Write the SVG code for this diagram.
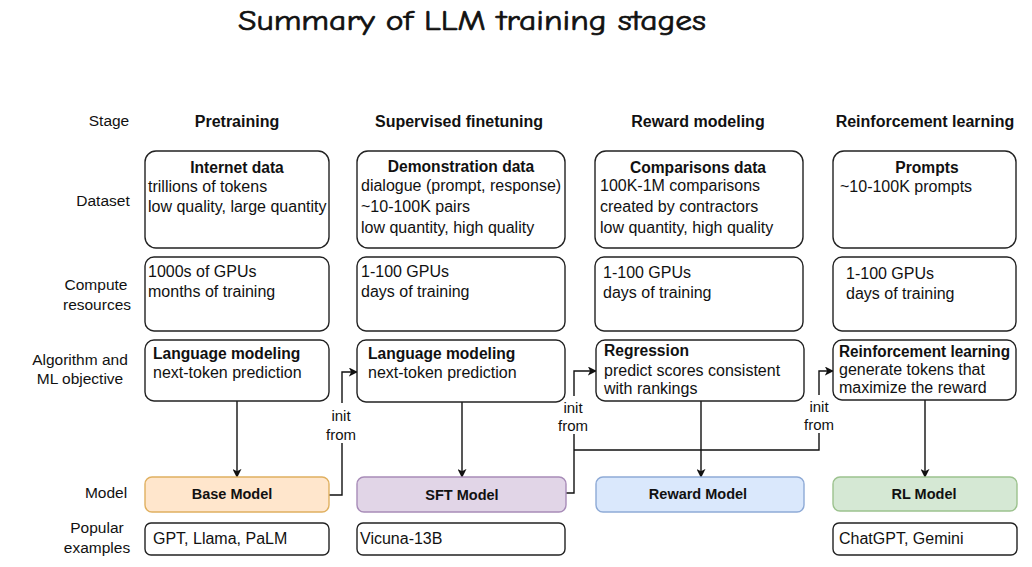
<svg xmlns="http://www.w3.org/2000/svg" width="1032" height="567" viewBox="0 0 1032 567">
<defs>
<marker id="arr" viewBox="0 0 10 10" refX="9" refY="5" markerWidth="9" markerHeight="9" markerUnits="userSpaceOnUse" orient="auto">
<path d="M0,0 L10,5 L0,10 L2.5,5 Z" fill="#111"/>
</marker>
</defs>
<style>
text{font-family:"Liberation Sans",Arial,sans-serif;fill:#111;font-size:16px}
.b{font-weight:bold;font-size:15.6px}
.h{font-weight:bold;font-size:16px;text-anchor:middle}
.r{font-size:15.5px;text-anchor:middle}
.m{text-anchor:middle}
.box{fill:#fff;stroke:#222;stroke-width:1.4}
.lbl{font-size:15px;text-anchor:middle}
.mt{font-weight:bold;font-size:14.5px;text-anchor:middle}
.conn{fill:none;stroke:#111;stroke-width:1.4}
.title{font-family:"Comic Neue","Comic Sans MS","DejaVu Sans",sans-serif;font-size:29px;text-anchor:middle;stroke:#111;stroke-width:0.7}
</style>
<rect width="1032" height="567" fill="#fff"/>
<text class="title" x="472" y="30" textLength="468" lengthAdjust="spacingAndGlyphs">Summary of LLM training stages</text>

<g id="row-labels">
<text class="r" x="109" y="126">Stage</text>
<text class="r" x="103" y="206">Dataset</text>
<text class="r" x="96" y="290">Compute</text>
<text class="r" x="97" y="310">resources</text>
<text class="r" x="80" y="365">Algorithm and</text>
<text class="r" x="80" y="384">ML objective</text>
<text class="r" x="106" y="498">Model</text>
<text class="r" x="97" y="533">Popular</text>
<text class="r" x="97" y="553">examples</text>
</g>

<g id="headers">
<text class="h" x="237" y="127">Pretraining</text>
<text class="h" x="459" y="127">Supervised finetuning</text>
<text class="h" x="698" y="127">Reward modeling</text>
<text class="h" x="925" y="127">Reinforcement learning</text>
</g>

<g id="connectors">
<line class="conn" x1="237" y1="401" x2="237" y2="477" marker-end="url(#arr)"/>
<line class="conn" x1="462" y1="402" x2="462" y2="477" marker-end="url(#arr)"/>
<line class="conn" x1="701" y1="401" x2="701" y2="477" marker-end="url(#arr)"/>
<line class="conn" x1="925" y1="400" x2="925" y2="477" marker-end="url(#arr)"/>
<path class="conn" d="M329,495 H342 V372 H357" marker-end="url(#arr)"/>
<path class="conn" d="M566,493 H574 V371 H596" marker-end="url(#arr)"/>
<path class="conn" d="M574,450 H819 V371 H833" marker-end="url(#arr)"/>
<rect x="325" y="403" width="34" height="40" fill="#fff"/>
<text class="lbl" x="341" y="421">init</text>
<text class="lbl" x="341" y="440">from</text>
<rect x="556" y="396" width="34" height="38" fill="#fff"/>
<text class="lbl" x="573" y="413">init</text>
<text class="lbl" x="573" y="431">from</text>
<rect x="802" y="395" width="34" height="38" fill="#fff"/>
<text class="lbl" x="819" y="412">init</text>
<text class="lbl" x="819" y="430">from</text>
</g>

<g id="pre-dataset">
<rect class="box" x="145" y="151" width="184" height="97" rx="11"/>
<text class="b m" x="237" y="173">Internet data</text>
<text x="148" y="192">trillions of tokens</text>
<text x="148" y="212">low quality, large quantity</text>
</g>
<g id="pre-compute">
<rect class="box" x="145" y="257" width="184" height="74" rx="9"/>
<text x="148" y="277">1000s of GPUs</text>
<text x="148" y="297">months of training</text>
</g>
<g id="pre-algo">
<rect class="box" x="145" y="340" width="184" height="61" rx="9"/>
<text class="b" x="153" y="359">Language modeling</text>
<text x="153" y="378">next-token prediction</text>
</g>
<g id="base-model">
<rect x="145" y="477" width="184" height="35" rx="7" fill="#ffe6cc" stroke="#e0b060" stroke-width="1.4"/>
<text class="mt" x="232" y="499">Base Model</text>
</g>
<g id="pre-examples">
<rect class="box" x="145" y="523" width="184" height="32" rx="6"/>
<text x="153" y="544">GPT, Llama, PaLM</text>
</g>

<g id="sft-dataset">
<rect class="box" x="357" y="151" width="208" height="97" rx="11"/>
<text class="b m" x="461" y="172">Demonstration data</text>
<text x="361" y="191">dialogue (prompt, response)</text>
<text x="361" y="212">~10-100K pairs</text>
<text x="361" y="233">low quantity, high quality</text>
</g>
<g id="sft-compute">
<rect class="box" x="357" y="257" width="208" height="74" rx="9"/>
<text x="361" y="277">1-100 GPUs</text>
<text x="361" y="297">days of training</text>
</g>
<g id="sft-algo">
<rect class="box" x="357" y="340" width="208" height="62" rx="9"/>
<text class="b" x="368" y="359">Language modeling</text>
<text x="368" y="378">next-token prediction</text>
</g>
<g id="sft-model">
<rect x="357" y="477" width="209" height="35" rx="7" fill="#e1d5e7" stroke="#a88cb8" stroke-width="1.4"/>
<text class="mt" x="462" y="500">SFT Model</text>
</g>
<g id="sft-examples">
<rect class="box" x="357" y="523" width="208" height="32" rx="6"/>
<text x="360" y="544">Vicuna-13B</text>
</g>

<g id="rm-dataset">
<rect class="box" x="595" y="151" width="208" height="97" rx="11"/>
<text class="b m" x="698" y="173">Comparisons data</text>
<text x="600" y="191">100K-1M comparisons</text>
<text x="600" y="212">created by contractors</text>
<text x="600" y="233">low quantity, high quality</text>
</g>
<g id="rm-compute">
<rect class="box" x="595" y="257" width="208" height="74" rx="9"/>
<text x="603" y="278">1-100 GPUs</text>
<text x="603" y="298">days of training</text>
</g>
<g id="rm-algo">
<rect class="box" x="596" y="340" width="208" height="61" rx="9"/>
<text class="b" x="604" y="356">Regression</text>
<text x="604" y="376">predict scores consistent</text>
<text x="604" y="394">with rankings</text>
</g>
<g id="reward-model">
<rect x="596" y="477" width="208" height="35" rx="7" fill="#dae8fc" stroke="#8eaad6" stroke-width="1.4"/>
<text class="mt" x="698" y="499">Reward Model</text>
</g>

<g id="rl-dataset">
<rect class="box" x="833" y="151" width="183" height="97" rx="11"/>
<text class="b m" x="927" y="173">Prompts</text>
<text x="840" y="192">~10-100K prompts</text>
</g>
<g id="rl-compute">
<rect class="box" x="833" y="257" width="183" height="74" rx="9"/>
<text x="846" y="279">1-100 GPUs</text>
<text x="846" y="299">days of training</text>
</g>
<g id="rl-algo">
<rect class="box" x="833" y="340" width="183" height="60" rx="9"/>
<text class="b" x="839" y="357" textLength="171" lengthAdjust="spacingAndGlyphs">Reinforcement learning</text>
<text x="839" y="375">generate tokens that</text>
<text x="839" y="393">maximize the reward</text>
</g>
<g id="rl-model">
<rect x="833" y="477" width="184" height="34" rx="7" fill="#d5e8d4" stroke="#9cc28e" stroke-width="1.4"/>
<text class="mt" x="924" y="499">RL Model</text>
</g>
<g id="rl-examples">
<rect class="box" x="833" y="523" width="184" height="32" rx="6"/>
<text x="839" y="544">ChatGPT, Gemini</text>
</g>
</svg>
